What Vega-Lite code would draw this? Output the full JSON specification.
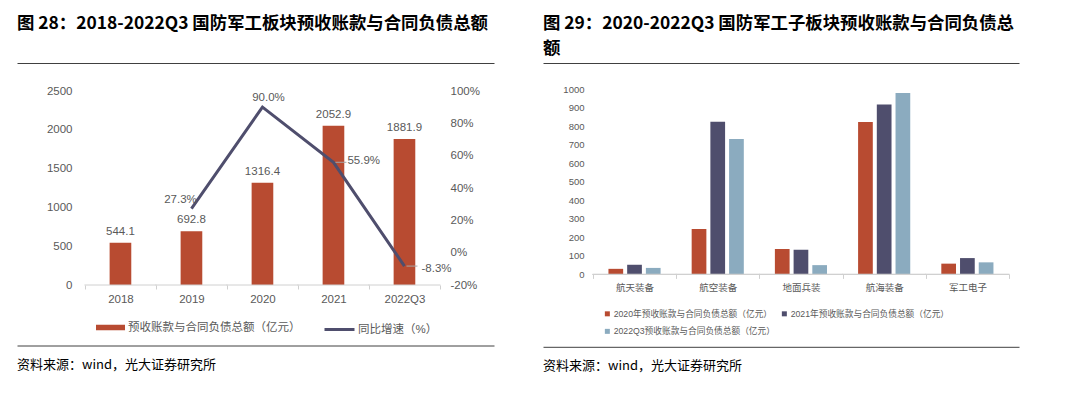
{
  "$schema": "https://vega.github.io/schema/vega-lite/v6.json",
  "background": "white",
  "padding": {"left": 17, "top": 15, "right": 5, "bottom": 5},
  "spacing": 49,
  "resolve": {"scale": {"fill": "independent", "stroke": "independent"}, "legend": {"fill": "independent", "stroke": "independent"}},
  "config": {
    "view": {"stroke": null},
    "font": "'Liberation Sans', 'Noto Sans CJK SC', sans-serif",
    "locale": {"number": {"decimal": ".", "thousands": ",", "grouping": [3], "currency": ["$", ""], "minus": "-"}},
    "axis": {"grid": false, "labelColor": "#595959", "title": null}
  },
  "hconcat": [
    {
      "bounds": "flush",
      "spacing": 0,
      "vconcat": [
        {
          "width": 477,
          "height": 28,
          "title": {"text": "图 28：2018-2022Q3 国防军工板块预收账款与合同负债总额", "anchor": "start", "orient": "top", "font": "'Noto Sans CJK SC'", "fontSize": 17.4, "fontWeight": "bold", "color": "#000000", "baseline": "bottom", "offset": 12.5},
          "data": {"values": [{}]},
          "mark": {"type": "text", "text": ""},
          "encoding": {"x": {"datum": 0, "type": "quantitative", "scale": {"domain": [0, 1]}, "axis": {"orient": "top", "domain": true, "domainColor": "#404040", "domainWidth": 1, "labels": false, "ticks": false, "title": null, "grid": false, "minExtent": 0, "maxExtent": 0}}}
        },
        {
          "width": 477,
          "height": 194,
          "data": {"values": [
            {"period": "2018", "amount": 544.1, "growth": null},
            {"period": "2019", "amount": 692.8, "growth": 0.273},
            {"period": "2020", "amount": 1316.4, "growth": 0.9},
            {"period": "2021", "amount": 2052.9, "growth": 0.559},
            {"period": "2022Q3", "amount": 1881.9, "growth": -0.083}
          ]},
          "encoding": {
            "x": {"field": "period", "type": "nominal", "sort": null,
              "scale": {"paddingInner": 0, "paddingOuter": 0.859, "align": 0.557},
              "axis": {"orient": "bottom", "labelAngle": 0, "domain": false, "ticks": true, "tickBand": "extent", "tickSize": 4, "tickColor": "#d0d0d0", "labelPadding": 4, "labelFontSize": 11.5, "labelColor": "#595959", "title": null}}
          },
          "layer": [
            {
              "layer": [
                {
                  "mark": {"type": "bar", "width": {"band": 0.305}},
                  "encoding": {
                    "y": {"field": "amount", "type": "quantitative", "scale": {"domain": [0, 2500], "nice": false},
                      "axis": {"orient": "left", "offset": -60, "values": [0, 500, 1000, 1500, 2000, 2500], "tickCount": 20, "format": "d", "labelOverlap": false, "domain": false, "ticks": false, "labelPadding": 5, "labelFontSize": 11.5, "labelColor": "#595959", "title": null}},
                    "fill": {"datum": "预收账款与合同负债总额（亿元）", "type": "nominal", "scale": {"range": ["#B84B31"]},
                      "legend": {"orient": "none", "legendX": 79, "legendY": 250, "title": null, "symbolType": "M-1,-0.19H1V0.19H-1Z", "symbolSize": 841, "symbolStrokeWidth": 0, "labelFontSize": 11.5, "labelColor": "#595959", "labelOffset": 3, "labelLimit": 0}}
                  }
                },
                {
                  "mark": {"type": "text", "dy": -11, "fontSize": 11.5, "color": "#595959"},
                  "encoding": {
                    "y": {"field": "amount", "type": "quantitative"},
                    "text": {"field": "amount", "type": "quantitative", "format": ".1f"}
                  }
                },
                {
                  "mark": {"type": "rule", "color": "#d0d0d0", "xOffset": -36, "x2Offset": 36},
                  "encoding": {
                    "x2": {"field": "period"},
                    "y": {"datum": 0, "type": "quantitative"}
                  }
                }
              ]
            },
            {
              "layer": [
                {
                  "mark": {"type": "line", "strokeWidth": 3},
                  "encoding": {
                    "y": {"field": "growth", "type": "quantitative", "scale": {"domain": [-0.2, 1.0], "nice": false},
                      "axis": {"orient": "right", "offset": -48, "values": [-0.2, 0, 0.2, 0.4, 0.6, 0.8, 1.0], "tickCount": 20, "format": ".0%", "labelOverlap": false, "domain": false, "ticks": false, "labelPadding": 4, "labelFontSize": 11.5, "labelColor": "#595959", "title": null}},
                    "stroke": {"datum": "同比增速（%）", "type": "nominal", "scale": {"range": ["#4F4E6D"]},
                      "legend": {"orient": "none", "legendX": 306, "legendY": 250, "title": null, "symbolType": "stroke", "symbolSize": 900, "symbolStrokeWidth": 3, "labelFontSize": 11.5, "labelColor": "#595959", "labelOffset": 2, "labelLimit": 0}}
                  }
                },
                {
                  "transform": [{"filter": "datum.period === '2021' || datum.period === '2022Q3'"}],
                  "mark": {"type": "rule", "color": "#a6a6a6", "xOffset": 2, "x2Offset": 13},
                  "encoding": {
                    "x2": {"field": "period"},
                    "y": {"field": "growth", "type": "quantitative"}
                  }
                },
                {
                  "transform": [{"filter": "datum.period === '2019'"}],
                  "mark": {"type": "text", "dx": -11, "dy": -9, "fontSize": 11.5, "color": "#595959"},
                  "encoding": {
                    "y": {"field": "growth", "type": "quantitative"},
                    "text": {"field": "growth", "type": "quantitative", "format": ".1%"}
                  }
                },
                {
                  "transform": [{"filter": "datum.period === '2020'"}],
                  "mark": {"type": "text", "dx": 6, "dy": -9, "fontSize": 11.5, "color": "#595959"},
                  "encoding": {
                    "y": {"field": "growth", "type": "quantitative"},
                    "text": {"field": "growth", "type": "quantitative", "format": ".1%"}
                  }
                },
                {
                  "transform": [{"filter": "datum.period === '2021'"}],
                  "mark": {"type": "text", "align": "left", "dx": 14, "dy": -1, "fontSize": 11.5, "color": "#595959"},
                  "encoding": {
                    "y": {"field": "growth", "type": "quantitative"},
                    "text": {"field": "growth", "type": "quantitative", "format": ".1%"}
                  }
                },
                {
                  "transform": [{"filter": "datum.period === '2022Q3'"}],
                  "mark": {"type": "text", "align": "left", "dx": 17, "dy": 3, "fontSize": 11.5, "color": "#595959"},
                  "encoding": {
                    "y": {"field": "growth", "type": "quantitative"},
                    "text": {"field": "growth", "type": "quantitative", "format": ".1%"}
                  }
                }
              ]
            }
          ],
          "resolve": {"scale": {"y": "independent"}}
        },
        {
          "width": 477,
          "height": 60.5,
          "title": {"text": "资料来源：wind，光大证券研究所", "anchor": "start", "orient": "bottom", "font": "'Noto Sans CJK SC'", "fontSize": 13, "fontWeight": "normal", "color": "#000000", "baseline": "top", "offset": 13.5},
          "data": {"values": [{}]},
          "mark": {"type": "text", "text": ""},
          "encoding": {"x": {"datum": 0, "type": "quantitative", "scale": {"domain": [0, 1]}, "axis": {"orient": "bottom", "domain": true, "domainColor": "#404040", "domainWidth": 1, "labels": false, "ticks": false, "title": null, "grid": false, "minExtent": 0, "maxExtent": 0}}}
        }
      ]
    },
    {
      "bounds": "flush",
      "spacing": 0,
      "vconcat": [
        {
          "width": 476,
          "height": 25.3,
          "title": {"text": ["图 29：2020-2022Q3  国防军工子板块预收账款与合同负债总", "额"], "anchor": "start", "orient": "top", "font": "'Noto Sans CJK SC'", "fontSize": 17.4, "fontWeight": "bold", "color": "#000000", "baseline": "bottom", "lineHeight": 25, "offset": -12.5},
          "data": {"values": [{}]},
          "mark": {"type": "text", "text": ""},
          "encoding": {"x": {"datum": 0, "type": "quantitative", "scale": {"domain": [0, 1]}, "axis": {"orient": "top", "domain": true, "domainColor": "#404040", "domainWidth": 1, "labels": false, "ticks": false, "title": null, "grid": false, "minExtent": 0, "maxExtent": 0}}}
        },
        {
          "width": 476,
          "height": 185.4,
          "data": {"values": [
            {"segment": "航天装备", "series": "2020年预收账款与合同负债总额（亿元）", "value": 30},
            {"segment": "航天装备", "series": "2021年预收账款与合同负债总额（亿元）", "value": 52},
            {"segment": "航天装备", "series": "2022Q3预收账款与合同负债总额（亿元）", "value": 35},
            {"segment": "航空装备", "series": "2020年预收账款与合同负债总额（亿元）", "value": 245},
            {"segment": "航空装备", "series": "2021年预收账款与合同负债总额（亿元）", "value": 824},
            {"segment": "航空装备", "series": "2022Q3预收账款与合同负债总额（亿元）", "value": 730},
            {"segment": "地面兵装", "series": "2020年预收账款与合同负债总额（亿元）", "value": 137},
            {"segment": "地面兵装", "series": "2021年预收账款与合同负债总额（亿元）", "value": 133},
            {"segment": "地面兵装", "series": "2022Q3预收账款与合同负债总额（亿元）", "value": 50},
            {"segment": "航海装备", "series": "2020年预收账款与合同负债总额（亿元）", "value": 822},
            {"segment": "航海装备", "series": "2021年预收账款与合同负债总额（亿元）", "value": 917},
            {"segment": "航海装备", "series": "2022Q3预收账款与合同负债总额（亿元）", "value": 978},
            {"segment": "军工电子", "series": "2020年预收账款与合同负债总额（亿元）", "value": 58},
            {"segment": "军工电子", "series": "2021年预收账款与合同负债总额（亿元）", "value": 88},
            {"segment": "军工电子", "series": "2022Q3预收账款与合同负债总额（亿元）", "value": 65}
          ]},
          "encoding": {
            "x": {"field": "segment", "type": "nominal", "sort": null,
              "scale": {"paddingInner": 0, "paddingOuter": 0.36, "align": 0.833},
              "axis": {"orient": "bottom", "labelAngle": 0, "domain": false, "ticks": true, "tickBand": "extent", "tickSize": 4, "tickColor": "#d0d0d0", "labelPadding": 4, "labelFontSize": 9.5, "labelColor": "#595959", "title": null}}
          },
          "layer": [
            {
              "mark": {"type": "bar"},
              "encoding": {
                "xOffset": {"field": "series", "type": "nominal", "sort": null, "scale": {"paddingInner": 0.214, "paddingOuter": 0.83}},
                "y": {"field": "value", "type": "quantitative", "scale": {"domain": [0, 1000], "nice": false},
                  "axis": {"orient": "left", "offset": -45, "values": [0, 100, 200, 300, 400, 500, 600, 700, 800, 900, 1000], "tickCount": 20, "format": "d", "labelOverlap": false, "domain": false, "ticks": false, "labelPadding": 4, "labelFontSize": 9.5, "labelColor": "#595959", "title": null}},
                "fill": {"field": "series", "type": "nominal", "sort": null, "scale": {"range": ["#B84B31", "#4F4E6D", "#8BABBF"]},
                  "legend": {"orient": "none", "legendX": 60, "legendY": 246, "title": null, "columns": 2, "direction": "horizontal", "symbolType": "square", "symbolSize": 25, "symbolStrokeWidth": 0, "labelFontSize": 8.7, "labelColor": "#595959", "labelOffset": 2, "labelLimit": 0, "columnPadding": 5, "rowPadding": 8}}
              }
            },
            {
              "mark": {"type": "rule", "color": "#d0d0d0", "xOffset": -42, "x2Offset": 42},
              "encoding": {
                "x2": {"field": "segment"},
                "y": {"datum": 0, "type": "quantitative"}
              }
            }
          ]
        },
        {
          "width": 476,
          "height": 71.8,
          "title": {"text": "资料来源：wind，光大证券研究所", "anchor": "start", "orient": "bottom", "font": "'Noto Sans CJK SC'", "fontSize": 13, "fontWeight": "normal", "color": "#000000", "baseline": "top", "offset": 13.5},
          "data": {"values": [{}]},
          "mark": {"type": "text", "text": ""},
          "encoding": {"x": {"datum": 0, "type": "quantitative", "scale": {"domain": [0, 1]}, "axis": {"orient": "bottom", "domain": true, "domainColor": "#404040", "domainWidth": 1, "labels": false, "ticks": false, "title": null, "grid": false, "minExtent": 0, "maxExtent": 0}}}
        }
      ]
    }
  ]
}
